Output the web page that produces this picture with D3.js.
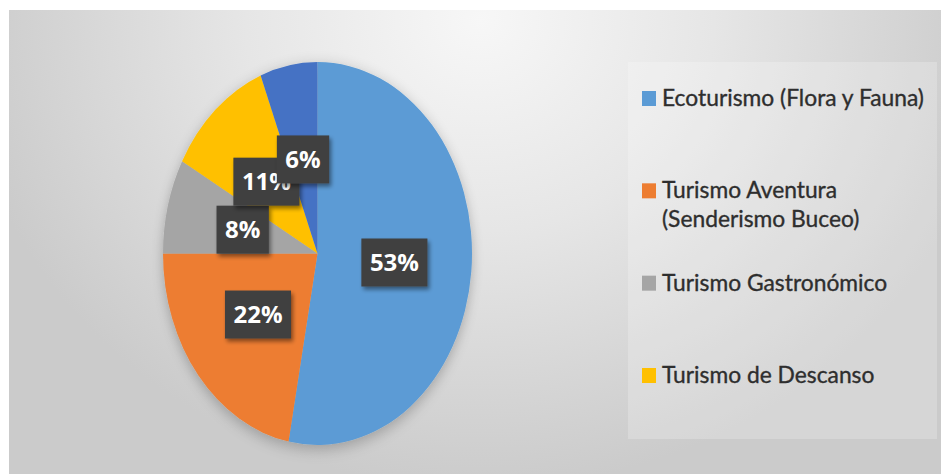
<!DOCTYPE html>
<html>
<head>
<meta charset="utf-8">
<script src="https://cdn.jsdelivr.net/npm/d3@7"></script>
<style>
  html, body { margin: 0; padding: 0; background: #fff; }
  svg { display: block; }
</style>
</head>
<body>
<svg id="chart" width="941" height="474"></svg>
<script>
// Share of tourism types (percent)
const categories = [
  "Ecoturismo (Flora y Fauna)",
  "Turismo Aventura (Senderismo Buceo)",
  "Turismo Gastronómico",
  "Turismo de Descanso",
  "Otros"
];
const values = [53, 22, 8, 11, 6];
const colors = ["#5B9BD5", "#ED7D31", "#A5A5A5", "#FFC000", "#4472C4"];
// Legend entries (text lines per entry); the fifth slice has no legend entry
const legendLines = [
  ["Ecoturismo (Flora y Fauna)"],
  ["Turismo Aventura", "(Senderismo Buceo)"],
  ["Turismo Gastronómico"],
  ["Turismo de Descanso"]
];

const svg = d3.select("#chart");
const W = 941, H = 474;

// Background: soft grey radial gradient
const defs = svg.append("defs");
const bg = defs.append("radialGradient")
  .attr("id", "bgGrad")
  .attr("gradientUnits", "userSpaceOnUse")
  .attr("cx", 480).attr("cy", 20).attr("r", 520)
  .attr("gradientTransform", "translate(480,20) scale(1,0.9) translate(-480,-20)");
bg.append("stop").attr("offset", "0%").attr("stop-color", "#f7f7f7");
bg.append("stop").attr("offset", "45%").attr("stop-color", "#e6e6e6");
bg.append("stop").attr("offset", "100%").attr("stop-color", "#cbcbcb");

const shadow = defs.append("filter").attr("id", "pieShadow")
  .attr("x", "-20%").attr("y", "-20%").attr("width", "140%").attr("height", "140%");
shadow.append("feGaussianBlur").attr("in", "SourceAlpha").attr("stdDeviation", 6).attr("result", "b");
shadow.append("feOffset").attr("in", "b").attr("dx", 0).attr("dy", 3).attr("result", "o");
shadow.append("feComponentTransfer").attr("in", "o").attr("result", "s")
  .append("feFuncA").attr("type", "linear").attr("slope", 0.25);
const m1 = shadow.append("feMerge");
m1.append("feMergeNode").attr("in", "s");
m1.append("feMergeNode").attr("in", "SourceGraphic");

const boxShadow = defs.append("filter").attr("id", "boxShadow")
  .attr("x", "-30%").attr("y", "-30%").attr("width", "160%").attr("height", "160%");
boxShadow.append("feGaussianBlur").attr("in", "SourceAlpha").attr("stdDeviation", 2).attr("result", "b");
boxShadow.append("feOffset").attr("in", "b").attr("dx", 2).attr("dy", 3).attr("result", "o");
boxShadow.append("feComponentTransfer").attr("in", "o").attr("result", "s")
  .append("feFuncA").attr("type", "linear").attr("slope", 0.45);
const m2 = boxShadow.append("feMerge");
m2.append("feMergeNode").attr("in", "s");
m2.append("feMergeNode").attr("in", "SourceGraphic");

svg.append("rect")
  .attr("x", 9).attr("y", 10)
  .attr("width", W - 9).attr("height", H - 10)
  .attr("fill", "url(#bgGrad)");

// Pie (drawn as a circle and stretched vertically into an ellipse)
const cx = 317.5, cy = 253.5, rx = 154.5, ry = 191.5;
const sy = ry / rx;

const pie = d3.pie().sort(null).value(d => d);
const arcs = pie(values);
const arc = d3.arc().innerRadius(0).outerRadius(rx);

const pieG = svg.append("g")
  .attr("transform", `translate(${cx},${cy}) scale(1,${sy})`)
  .attr("filter", "url(#pieShadow)");

pieG.selectAll("path.slice")
  .data(arcs)
  .join("path")
  .attr("class", "slice")
  .attr("d", arc)
  .attr("fill", (d, i) => colors[i]);

// Data labels at the slice centroids
const labelG = svg.append("g").attr("transform", `translate(${cx},${cy})`);
const labels = labelG.selectAll("g.lbl")
  .data(arcs)
  .join("g")
  .attr("class", "lbl")
  .attr("transform", d => {
    const [x, y] = arc.centroid(d);
    return `translate(${x},${y * sy})`;
  });

labels.append("text")
  .attr("class", "ltxt")
  .attr("text-anchor", "middle")
  .attr("dy", "0.36em")
  .attr("font-family", "'Open Sans', sans-serif")
  .attr("font-weight", 700)
  .attr("font-size", 24)
  .attr("fill", "#ffffff")
  .text(d => d.data + "%");

labels.each(function () {
  const g = d3.select(this);
  const t = g.select("text");
  const w = t.node().getComputedTextLength();
  g.insert("rect", "text")
    .attr("x", -w / 2 - 8.5)
    .attr("y", -24)
    .attr("width", w + 17)
    .attr("height", 48)
    .attr("fill", "#404040")
    .attr("filter", "url(#boxShadow)");
});

// Legend panel
const legX = 628, legY = 62, legW = 309, legH = 377;
svg.append("rect")
  .attr("x", legX).attr("y", legY)
  .attr("width", legW).attr("height", legH)
  .attr("fill", "#ffffff").attr("fill-opacity", 0.22);

const legendY = d3.scaleLinear().domain([0, 3]).range([106, 383]);
const legG = svg.append("g");
const items = legG.selectAll("g.item")
  .data(legendLines)
  .join("g")
  .attr("class", "item")
  .attr("transform", (d, i) => `translate(0,${legendY(i)})`);

items.append("rect")
  .attr("x", 642).attr("y", -15)
  .attr("width", 14).attr("height", 15)
  .attr("fill", (d, i) => colors[i]);

items.append("text")
  .attr("x", 662)
  .attr("font-family", "Lato, sans-serif")
  .attr("font-size", 22.8)
  .attr("fill", "#2e2e2e")
  .attr("stroke", "#2e2e2e")
  .attr("stroke-width", 0.35)
  .selectAll("tspan")
  .data(d => d)
  .join("tspan")
  .attr("x", 662)
  .attr("dy", (d, j) => j === 0 ? 0 : 29)
  .text(d => d);
</script>
</body>
</html>
